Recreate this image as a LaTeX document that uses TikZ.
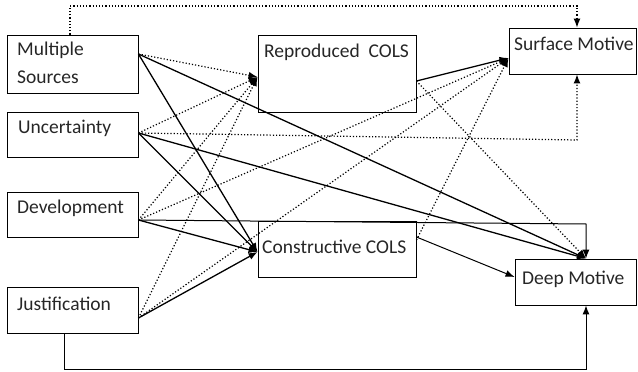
\documentclass[tikz,border=0pt]{standalone}
\usepackage{fontspec}
\setmainfont{Carlito}
\usetikzlibrary{arrows.meta}
\tikzstyle{box} = [draw, rectangle, line width=0.9pt, inner sep=0pt]
\tikzstyle{txt} = [anchor=base west, inner sep=0pt, align=left,
    font=\fontsize{19.5}{28}\selectfont, text=black!85]
\tikzstyle{solidarrow} = [-{Latex[length=9pt,width=7pt]}, line width=1.3pt]
\tikzstyle{thinarrow} = [-{Latex[length=9pt,width=7pt]}, line width=1pt]
\tikzstyle{dotarrow} = [-{Latex[length=9pt,width=7pt]}, line width=1.2pt, dotted]

\begin{document}
\begin{tikzpicture}[x=1pt,y=-1pt]
\useasboundingbox (0,0) rectangle (638,372);

% boxes
\node[box, minimum width=131pt, minimum height=58pt] (ms) at (72.5,64) {};
\node[box, minimum width=131pt, minimum height=45pt] (unc) at (72.5,134.5) {};
\node[box, minimum width=131pt, minimum height=45pt] (dev) at (72.5,214.5) {};
\node[box, minimum width=131pt, minimum height=46pt] (jus) at (72.5,310) {};
\node[box, minimum width=158pt, minimum height=77pt] (rep) at (337,73.5) {};
\node[box, minimum width=158pt, minimum height=56pt] (con) at (337,249) {};
\node[box, minimum width=127pt, minimum height=46pt] (sur) at (572.5,51) {};
\node[box, minimum width=121pt, minimum height=46pt] (deep) at (575.5,282) {};

% labels
\node[txt] (msl) at (17,83) {Multiple\\Sources};
\node[txt] (uncl) at (18,133) {Uncertainty};
\node[txt] (devl) at (17,213) {Development};
\node[txt] (jusl) at (17,310) {Justification};
\node[txt] (repl) at (264,57) {Reproduced\ \ COLS};
\node[txt] (conl) at (262,253) {Constructive COLS};
\node[txt] (surl) at (514,50) {Surface Motive};
\node[txt] (deepl) at (522,284) {Deep Motive};

% ports
\coordinate (ms-out) at ([yshift=10pt]ms.east);
\coordinate (unc-out) at ([yshift=1.5pt]unc.east);
\coordinate (dev-out) at ([yshift=-5.5pt]dev.east);
\coordinate (jus-out) at ([yshift=-8pt]jus.east);
\coordinate (rep-in) at ([yshift=-3.5pt]rep.west);
\coordinate (con-in) at ([yshift=-3pt]con.west);
\coordinate (rep-out) at ([yshift=-7.5pt]rep.east);
\coordinate (con-out) at ([yshift=12pt]con.east);
\coordinate (sur-in) at ([yshift=-7pt]sur.west);
\coordinate (deep-in) at ([xshift=10.5pt]deep.north);
\coordinate (deep-w) at ([yshift=5pt]deep.west);

% bends
\coordinate (T1) at ([xshift=-2.5pt]ms.north);
\coordinate (T2) at (70,6);
\coordinate (T3) at (577,6);
\coordinate (U1) at (577,140);
\coordinate (D1) at (586,224);
\coordinate (J1) at ([xshift=-8.5pt]jus.south);
\coordinate (J2) at (64,369);
\coordinate (J3) at (586,369);

% solid paths
\draw[solidarrow] (ms-out) -- (con-in);
\draw[solidarrow] (ms-out) -- (deep-in);
\draw[solidarrow] (unc-out) -- (con-in);
\draw[solidarrow] (unc-out) -- (deep-in);
\draw[solidarrow] (dev-out) -- (con-in);
\draw[thinarrow] (dev-out) -- (D1) -- (deep-in);
\draw[solidarrow] (jus-out) -- (con-in);
\draw[thinarrow] (J1) -- (J2) -- (J3) -- (J3 |- deep.south);
\draw[solidarrow] (rep-out) -- (sur-in);
\draw[thinarrow] (con-out) -- (deep-w);

% dotted paths
\draw[dotarrow] (ms-out) -- (rep-in);
\draw[dotarrow] (T1) -- (T2) -- (T3) -- (T3 |- sur.north);
\draw[dotarrow] (unc-out) -- (rep-in);
\draw[dotarrow] (unc-out) -- (U1) -- (U1 |- sur.south);
\draw[dotarrow] (dev-out) -- (rep-in);
\draw[dotarrow] (dev-out) -- (sur-in);
\draw[dotarrow] (jus-out) -- (rep-in);
\draw[dotarrow] (jus-out) -- (sur-in);
\draw[dotarrow] (rep-out) -- (deep-in);
\draw[dotarrow] ([yshift=-3pt]con-out) -- (sur-in);
\end{tikzpicture}
\end{document}
